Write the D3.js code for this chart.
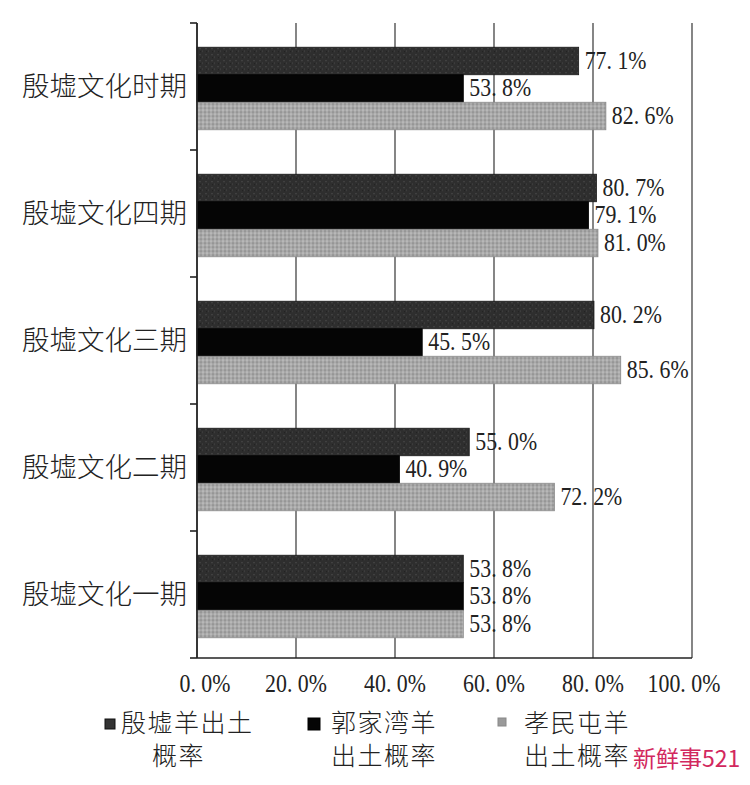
<!DOCTYPE html>
<html>
<head>
<meta charset="utf-8">
<script src="https://cdn.jsdelivr.net/npm/d3@7"></script>
<style>
  body { margin: 0; background: #fff; }
  svg { display: block; }
</style>
</head>
<body>
<svg id="chart" width="750" height="785"></svg>
<script>
// Catégories (de haut en bas) et séries
const categories = ['殷墟文化时期', '殷墟文化四期', '殷墟文化三期', '殷墟文化二期', '殷墟文化一期']
const seriesKeys = ['yinxu', 'guojiawan', 'xiaomintun']

// Valeurs (%)
const yinxuValues      = [77.1, 80.7, 80.2, 55.0, 53.8]
const guojiawanValues  = [53.8, 79.1, 45.5, 40.9, 53.8]
const xiaomintunValues = [82.6, 81.0, 85.6, 72.2, 53.8]

const xTicks = [0, 20, 40, 60, 80, 100]

// Légende sur deux lignes
const legendLine1 = ['殷墟羊出土', '郭家湾羊', '孝民屯羊']
const legendLine2 = ['概率', '出土概率', '出土概率']

const W = 750, H = 785
const margin = { top: 23, right: 58, bottom: 127, left: 197 }
const svg = d3.select('#chart')
const defs = svg.append('defs')

// ── Textures des barres ─────────────────────────────
const dark = defs.append('pattern').attr('id', 'tex-dark')
  .attr('width', 6).attr('height', 6).attr('patternUnits', 'userSpaceOnUse')
dark.append('rect').attr('width', 6).attr('height', 6).attr('fill', '#2e2e2e')
dark.append('rect').attr('x', 1).attr('y', 1).attr('width', 2).attr('height', 1).attr('fill', '#454545')
dark.append('rect').attr('x', 4).attr('y', 3).attr('width', 1).attr('height', 2).attr('fill', '#3c3c3c')
dark.append('rect').attr('x', 2).attr('y', 4).attr('width', 1).attr('height', 1).attr('fill', '#202020')

const grey = defs.append('pattern').attr('id', 'tex-grey')
  .attr('width', 4).attr('height', 4).attr('patternUnits', 'userSpaceOnUse')
grey.append('rect').attr('width', 4).attr('height', 4).attr('fill', '#a8a8a8')
grey.append('rect').attr('x', 0).attr('y', 0).attr('width', 2).attr('height', 2).attr('fill', '#969696')
grey.append('rect').attr('x', 2).attr('y', 2).attr('width', 2).attr('height', 2).attr('fill', '#b8b8b8')

const fills  = { yinxu: 'url(#tex-dark)', guojiawan: '#050505', xiaomintun: 'url(#tex-grey)' }
const strokes = { yinxu: '#1a1a1a', guojiawan: '#000', xiaomintun: '#8a8a8a' }

// ── Échelles ───────────────────────────────────────
const x = d3.scaleLinear().domain([0, 100]).range([margin.left, W - margin.right])
const y = d3.scaleBand().domain(categories)
  .range([margin.top, H - margin.bottom])
  .paddingInner(0.35).paddingOuter(0.175)
const ySub = d3.scaleBand().domain(seriesKeys).range([0, y.bandwidth()])

const data = categories.map((c, i) => ({
  cat: c,
  values: [
    { key: 'yinxu', v: yinxuValues[i] },
    { key: 'guojiawan', v: guojiawanValues[i] },
    { key: 'xiaomintun', v: xiaomintunValues[i] }
  ]
}))

const numFont = '"Liberation Serif", serif'
const cjkFont = '"Noto Sans CJK SC", sans-serif'
const fmt = v => d3.format('.1f')(v).replace('.', '. ') + '%'
// chiffres étroits et hauts comme dans l'original
const narrow = (tx, ty) => `translate(${tx},${ty}) scale(0.84,1)`

// Grille verticale
svg.append('g').selectAll('line').data(xTicks).join('line')
  .attr('x1', d => x(d)).attr('x2', d => x(d))
  .attr('y1', margin.top).attr('y2', H - margin.bottom)
  .attr('stroke', '#444').attr('stroke-width', 1.3)

// Barres
const groups = svg.append('g').selectAll('g').data(data).join('g')
  .attr('transform', d => `translate(0,${y(d.cat) + 2})`)

groups.selectAll('rect').data(d => d.values).join('rect')
  .attr('x', x(0))
  .attr('y', d => ySub(d.key))
  .attr('width', d => x(d.v) - x(0))
  .attr('height', ySub.bandwidth())
  .attr('fill', d => fills[d.key])
  .attr('stroke', d => strokes[d.key]).attr('stroke-width', 0.8)

groups.selectAll('text').data(d => d.values).join('text')
  .attr('transform', d => narrow(x(d.v) + 6, ySub(d.key) + ySub.bandwidth() / 2 + 2))
  .attr('dominant-baseline', 'middle')
  .attr('font-family', numFont).attr('font-size', 26).attr('fill', '#222')
  .text(d => fmt(d.v))

// Axe Y : ligne + petites graduations aux limites des bandes
const step = y.step()
const yEdges = d3.range(categories.length + 1).map(i => margin.top + i * step)
svg.append('line')
  .attr('x1', x(0)).attr('x2', x(0))
  .attr('y1', margin.top).attr('y2', H - margin.bottom)
  .attr('stroke', '#222').attr('stroke-width', 1.6)
svg.append('g').selectAll('line').data(yEdges).join('line')
  .attr('x1', x(0) - 7).attr('x2', x(0))
  .attr('y1', d => d).attr('y2', d => d)
  .attr('stroke', '#222').attr('stroke-width', 1.6)

svg.append('g').selectAll('text').data(categories).join('text')
  .attr('x', 187)
  .attr('y', d => y(d) + y.bandwidth() / 2 + 2)
  .attr('text-anchor', 'end').attr('dominant-baseline', 'middle')
  .attr('font-family', cjkFont).attr('font-weight', 300).attr('font-size', 27.5).attr('fill', '#222')
  .text(d => d)

// Axe X
svg.append('line')
  .attr('x1', x(0)).attr('x2', x(100))
  .attr('y1', H - margin.bottom).attr('y2', H - margin.bottom)
  .attr('stroke', '#222').attr('stroke-width', 1.6)
svg.append('g').selectAll('text').data(xTicks).join('text')
  .attr('transform', d => narrow(x(d) + (d === 0 ? 8 : d === 100 ? -8 : 0), 686))
  .attr('text-anchor', 'middle').attr('dominant-baseline', 'middle')
  .attr('font-family', numFont).attr('font-size', 26).attr('fill', '#222')
  .text(d => fmt(d))

// ── Légende ────────────────────────────────────────
const legendItems = [
  { key: 'yinxu',      sx: 105, sy: 719, s: 10, fill: '#333', stroke: '#111', tx: 121, tx2: 152 },
  { key: 'guojiawan',  sx: 308, sy: 718, s: 12, fill: '#050505', stroke: '#000', tx: 331, tx2: 331 },
  { key: 'xiaomintun', sx: 498, sy: 718, s: 8,  fill: '#9a9a9a', stroke: '#888', tx: 524, tx2: 524 }
]
const lg = svg.append('g').selectAll('g').data(legendItems).join('g')
lg.append('rect')
  .attr('x', d => d.sx).attr('y', d => d.sy)
  .attr('width', d => d.s).attr('height', d => d.s)
  .attr('fill', d => d.fill).attr('stroke', d => d.stroke)
lg.append('text')
  .attr('x', d => d.tx).attr('y', 725)
  .attr('dominant-baseline', 'middle')
  .attr('font-family', cjkFont).attr('font-weight', 300).attr('font-size', 25).attr('letter-spacing', 1.5).attr('fill', '#222')
  .text((d, i) => legendLine1[i])
lg.append('text')
  .attr('x', d => d.tx2).attr('y', 758)
  .attr('dominant-baseline', 'middle')
  .attr('font-family', cjkFont).attr('font-weight', 300).attr('font-size', 25).attr('letter-spacing', 1.5).attr('fill', '#222')
  .text((d, i) => legendLine2[i])

// Filigrane
svg.append('text')
  .attr('x', 633).attr('y', 761)
  .attr('dominant-baseline', 'middle')
  .attr('font-family', cjkFont).attr('font-size', 23).attr('fill', '#d2285e')
  .text('新鲜事521')
</script>
</body>
</html>
